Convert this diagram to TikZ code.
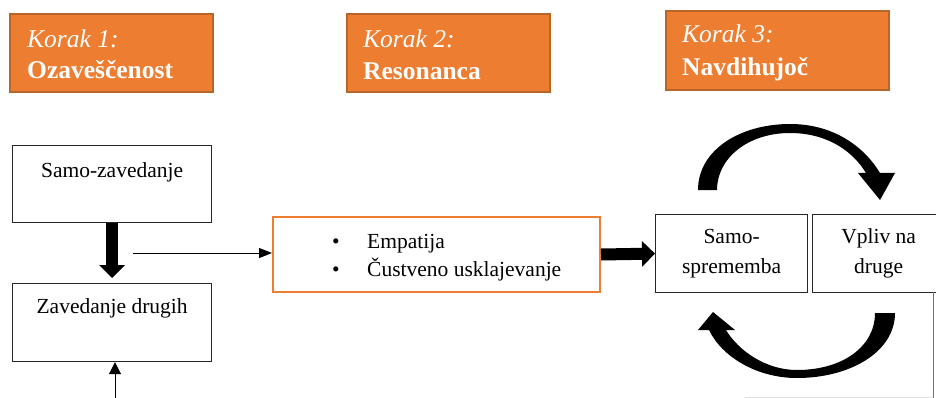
\documentclass[tikz,border=0pt]{standalone}
\usepackage{fontspec}
\setmainfont{Liberation Serif}
\usetikzlibrary{arrows.meta,calc}
\definecolor{hdrfill}{HTML}{ED7D31}
\definecolor{hdrline}{HTML}{B8652A}
\definecolor{listline}{HTML}{ED7D31}

\begin{document}
\begin{tikzpicture}[x=1pt,y=-1pt,
  hdr/.style={draw=hdrline, line width=2pt, fill=hdrfill, anchor=north west, inner sep=0pt},
  hdrtxt/.style={anchor=base west, inner sep=0pt, text=white, font=\fontsize{25.5}{30}\selectfont},
  plainbox/.style={draw=black!85, line width=1.2pt, anchor=north west, inner sep=0pt,
    font=\fontsize{21.5}{30}\selectfont},
  bodytxt/.style={inner sep=0pt, font=\fontsize{21.5}{30}\selectfont},
  fatarrow/.style={line width=12pt, -{Triangle[width=25pt,length=13pt]}},
  thinarrow/.style={line width=1pt, -{Triangle[width=10pt,length=13pt]}}
]
\useasboundingbox (0,0) rectangle (936,398);

% step headers
\node[hdr, minimum width=203pt, minimum height=78pt] (h1) at (9,13) {};
\node[hdr, minimum width=203pt, minimum height=78pt] (h2) at (346,13) {};
\node[hdr, minimum width=223pt, minimum height=79pt] (h3) at (665,10) {};
\node[hdrtxt] (h1a) at ([shift={(18,35)}]h1.north west) {\itshape Korak 1:};
\node[hdrtxt] (h1b) at ([shift={(18,66)}]h1.north west) {\bfseries Ozaveščenost};
\node[hdrtxt] (h2a) at ([shift={(17,35)}]h2.north west) {\itshape Korak 2:};
\node[hdrtxt] (h2b) at ([shift={(17,67)}]h2.north west) {\bfseries Resonanca};
\node[hdrtxt] (h3a) at ([shift={(17,33)}]h3.north west) {\itshape Korak 3:};
\node[hdrtxt] (h3b) at ([shift={(17,66)}]h3.north west) {\bfseries Navdihujoč};

% step 1 boxes
\node[plainbox, minimum width=199pt, text height=32pt, text depth=45pt] (sz) at (12,145) {Samo-zavedanje};
\node[plainbox, minimum width=199pt, text height=30pt, text depth=48pt] (zd) at (12,283) {Zavedanje drugih};

% step 2 box
\node[draw=listline, line width=2pt, anchor=north west, inner sep=0pt,
      minimum width=327pt, minimum height=75pt] (lb) at (272,216) {};
\node[bodytxt, anchor=base] (b1) at (336,248) {•};
\node[bodytxt, anchor=base] (b2) at (336,276) {•};
\node[bodytxt, anchor=base west] (l1) at (367,248) {Empatija};
\node[bodytxt, anchor=base west] (l2) at (367,276) {Čustveno usklajevanje};

% step 3 boxes
\node[plainbox, minimum width=152pt, minimum height=78pt, align=center] (ss) at (655,214) {Samo-\\sprememba};
\node[plainbox, minimum width=132pt, minimum height=78pt, align=center] (vp) at (812,214) {Vpliv na\\druge};

% connectors
\draw[fatarrow] (sz.south) -- ([yshift=5pt]zd.north);
\draw[fatarrow] (lb.east) -- (ss.west);
\coordinate (t0) at (133,253);
\draw[thinarrow] (t0) -- (t0 -| lb.west);
\coordinate (u0) at (115,398);
\draw[thinarrow, -{Triangle[width=12pt,length=12pt]}] (u0) -- (u0 |- zd.south);

% circular arrows around step 3
\fill (698,190) .. controls (698,150) and (740,124) .. (790,124)
  .. controls (835,124) and (865,148) .. (880,173)
  -- (895,173) -- (880,200) -- (858,173) -- (866,173)
  .. controls (852,150) and (826,133) .. (790,133)
  .. controls (748,133) and (717,158) .. (717,190) -- cycle;
\fill (895,313) .. controls (895,352) and (850,378) .. (797,378)
  .. controls (757,378) and (722,357) .. (709,330)
  -- (698,330) -- (713,312) -- (735,330) -- (726,330)
  .. controls (738,350) and (765,370) .. (797,370)
  .. controls (842,370) and (875,347) .. (875,313) -- cycle;

% frame edge at the right
\draw[black!55, line width=0.8pt] (933,292) -- (933,398);
\draw[black!12, line width=0.8pt] (745,397) -- (933,397);
\end{tikzpicture}
\end{document}
